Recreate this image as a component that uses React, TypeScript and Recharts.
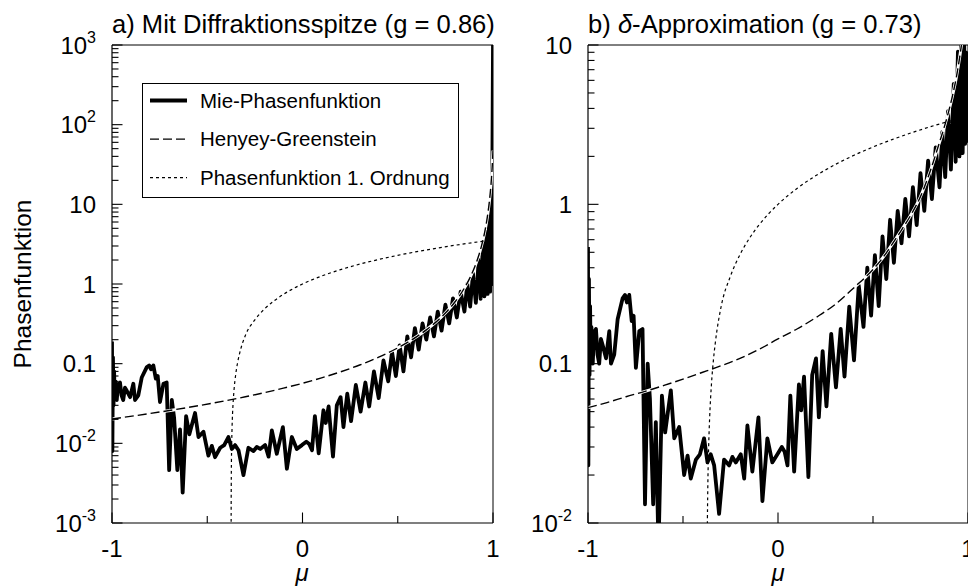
import React from 'react';
import { LineChart, Line, XAxis, YAxis, Legend, ReferenceLine } from 'recharts';

const FONT = '"Liberation Sans", Arial, Helvetica, sans-serif';

// ---------- Panel a) data: [mu, value] ----------
const mieA: [number, number][] = [
  [-1, 0.19], [-0.998, 0.008], [-0.995, 0.12], [-0.992, 0.03], [-0.989, 0.08], [-0.986, 0.04],
  [-0.982, 0.06], [-0.975, 0.035], [-0.968, 0.055], [-0.958, 0.058], [-0.95, 0.04], [-0.941, 0.035],
  [-0.932, 0.05], [-0.923, 0.046], [-0.905, 0.038], [-0.888, 0.056], [-0.879, 0.035], [-0.862, 0.04],
  [-0.844, 0.067], [-0.818, 0.09], [-0.805, 0.095], [-0.795, 0.085], [-0.783, 0.095], [-0.77, 0.065],
  [-0.76, 0.07], [-0.748, 0.033], [-0.73, 0.056], [-0.713, 0.058], [-0.7, 0.0046], [-0.686, 0.035],
  [-0.674, 0.021], [-0.657, 0.0046], [-0.643, 0.015], [-0.629, 0.0024], [-0.611, 0.022], [-0.594, 0.013],
  [-0.564, 0.024], [-0.546, 0.012], [-0.52, 0.014], [-0.494, 0.007], [-0.476, 0.0093], [-0.459, 0.0067],
  [-0.432, 0.0088], [-0.411, 0.0095], [-0.389, 0.012], [-0.371, 0.0085], [-0.354, 0.0095], [-0.336, 0.0082],
  [-0.31, 0.004], [-0.284, 0.0088], [-0.257, 0.008], [-0.24, 0.009], [-0.222, 0.0085], [-0.196, 0.0095],
  [-0.178, 0.0068], [-0.161, 0.0145], [-0.135, 0.0074], [-0.103, 0.016], [-0.082, 0.0048], [-0.056, 0.012],
  [-0.03, 0.0085], [-0.003, 0.0095], [0.02, 0.0105], [0.035, 0.0098], [0.05, 0.0082], [0.065, 0.022],
  [0.085, 0.0075], [0.11, 0.026], [0.122, 0.018], [0.137, 0.029], [0.16, 0.0068], [0.18, 0.03],
  [0.2, 0.038], [0.215, 0.016], [0.235, 0.042], [0.255, 0.019], [0.28, 0.054], [0.305, 0.025],
  [0.33, 0.058], [0.35, 0.029], [0.375, 0.08], [0.4, 0.037], [0.425, 0.11], [0.45, 0.06],
  [0.47, 0.14], [0.49, 0.07], [0.51, 0.17], [0.53, 0.08], [0.55, 0.22], [0.57, 0.12],
  [0.59, 0.28], [0.61, 0.15], [0.63, 0.32], [0.65, 0.2], [0.67, 0.38], [0.69, 0.22],
  [0.71, 0.45], [0.73, 0.26], [0.75, 0.55], [0.77, 0.32], [0.79, 0.66], [0.81, 0.38],
  [0.83, 0.8], [0.85, 0.45], [0.865, 1.0], [0.88, 0.52], [0.895, 1.35], [0.91, 0.58],
  [0.925, 2.0], [0.935, 0.65], [0.947, 3.2], [0.955, 0.7], [0.965, 4.5], [0.972, 0.75],
  [0.98, 8], [0.985, 0.8], [0.99, 12], [0.994, 1.0], [0.997, 40], [1, 1000],
];

const hgA: [number, number][] = [
  [-1, 0.0202], [-0.8, 0.0237], [-0.6, 0.0282], [-0.4, 0.0344], [-0.3, 0.0384], [-0.2, 0.0433],
  [-0.1, 0.0493], [0, 0.0567], [0.1, 0.0663], [0.2, 0.079], [0.3, 0.0962], [0.4, 0.1207],
  [0.5, 0.1578], [0.6, 0.2187], [0.65, 0.266], [0.7, 0.332], [0.75, 0.432], [0.8, 0.594],
  [0.85, 0.89], [0.88, 1.212], [0.9, 1.552], [0.92, 2.089], [0.94, 3.026], [0.96, 4.95],
  [0.97, 6.85], [0.98, 10.37], [0.99, 18.4], [0.995, 27.5], [1, 47.4],
];

const ordA: [number, number][] = [
  [-0.375, 0.000001], [-0.3745, 0.0015], [-0.374, 0.003], [-0.372, 0.009], [-0.37, 0.015],
  [-0.365, 0.03], [-0.36, 0.045], [-0.35, 0.075], [-0.34, 0.105], [-0.33, 0.135], [-0.3, 0.226],
  [-0.25, 0.355], [-0.2, 0.484], [-0.15, 0.613], [-0.1, 0.742], [-0.05, 0.871], [0, 1],
  [0.1, 1.258], [0.2, 1.516], [0.3, 1.774], [0.4, 2.032], [0.5, 2.29], [0.6, 2.548],
  [0.7, 2.806], [0.8, 3.064], [0.9, 3.322], [1, 3.58],
];

// ---------- Panel b) data ----------
const mieB: [number, number][] = [
  [-1, 0.54], [-0.998, 0.023], [-0.995, 0.34], [-0.992, 0.085], [-0.989, 0.23], [-0.986, 0.11],
  [-0.982, 0.17], [-0.975, 0.1], [-0.968, 0.157], [-0.958, 0.165], [-0.95, 0.114], [-0.941, 0.1],
  [-0.932, 0.143], [-0.923, 0.131], [-0.905, 0.108], [-0.888, 0.16], [-0.879, 0.1], [-0.862, 0.114],
  [-0.844, 0.19], [-0.818, 0.257], [-0.805, 0.27], [-0.795, 0.242], [-0.783, 0.27], [-0.77, 0.185],
  [-0.76, 0.2], [-0.748, 0.094], [-0.73, 0.16], [-0.713, 0.165], [-0.7, 0.0131], [-0.686, 0.1],
  [-0.674, 0.06], [-0.657, 0.0131], [-0.643, 0.043], [-0.629, 0.0068], [-0.611, 0.063], [-0.594, 0.037],
  [-0.564, 0.068], [-0.546, 0.034], [-0.52, 0.04], [-0.494, 0.02], [-0.476, 0.0265], [-0.459, 0.019],
  [-0.432, 0.025], [-0.411, 0.027], [-0.389, 0.034], [-0.371, 0.024], [-0.354, 0.027], [-0.336, 0.023],
  [-0.31, 0.0114], [-0.284, 0.025], [-0.257, 0.023], [-0.24, 0.026], [-0.222, 0.024], [-0.196, 0.027],
  [-0.178, 0.019], [-0.161, 0.041], [-0.135, 0.021], [-0.103, 0.046], [-0.082, 0.0137], [-0.056, 0.034],
  [-0.03, 0.024], [-0.003, 0.027], [0.02, 0.03], [0.035, 0.028], [0.05, 0.023], [0.065, 0.063],
  [0.085, 0.021], [0.11, 0.074], [0.122, 0.051], [0.137, 0.083], [0.16, 0.0194], [0.18, 0.085],
  [0.2, 0.108], [0.215, 0.046], [0.235, 0.12], [0.255, 0.054], [0.28, 0.154], [0.305, 0.071],
  [0.33, 0.165], [0.35, 0.083], [0.375, 0.228], [0.4, 0.105], [0.425, 0.31], [0.45, 0.17],
  [0.47, 0.4], [0.49, 0.2], [0.51, 0.48], [0.53, 0.23], [0.55, 0.63], [0.57, 0.34],
  [0.59, 0.8], [0.61, 0.43], [0.63, 0.91], [0.65, 0.57], [0.67, 1.08], [0.69, 0.63],
  [0.71, 1.28], [0.73, 0.74], [0.75, 1.57], [0.77, 0.91], [0.79, 1.88], [0.81, 1.08],
  [0.83, 2.28], [0.85, 1.28], [0.865, 2.85], [0.88, 1.48], [0.895, 3.85], [0.91, 1.65],
  [0.925, 5.7], [0.935, 1.85], [0.947, 9.1], [0.955, 2.0], [0.965, 12.8], [0.972, 2.1],
  [0.98, 11], [0.985, 2.4], [0.99, 9], [0.995, 2.5], [1, 6],
];

const hgB: [number, number][] = [
  [-1, 0.053], [-0.9, 0.057], [-0.8, 0.062], [-0.7, 0.067], [-0.6, 0.073], [-0.5, 0.08],
  [-0.4, 0.088], [-0.3, 0.097], [-0.2, 0.108], [-0.1, 0.123], [0, 0.143], [0.1, 0.165],
  [0.2, 0.195], [0.3, 0.235], [0.4, 0.3], [0.5, 0.39], [0.55, 0.46], [0.6, 0.56],
  [0.65, 0.69], [0.7, 0.86], [0.75, 1.12], [0.8, 1.6], [0.85, 2.45], [0.88, 3.2],
  [0.9, 3.9], [0.92, 4.9], [0.94, 6.4], [0.96, 9.0], [0.97, 11], [0.98, 14],
];

const ordB: [number, number][] = ordA;

// ---------- ticks / labels ----------
const xTicks = [-1, -0.5, 0, 0.5, 1];
const xLabelValues = [-1, 0, 1];
const xLabelTexts = ['-1', '0', '1'];

const yTicksA = [
  0.001, 0.002, 0.003, 0.004, 0.005, 0.006, 0.007, 0.008, 0.009,
  0.01, 0.02, 0.03, 0.04, 0.05, 0.06, 0.07, 0.08, 0.09,
  0.1, 0.2, 0.3, 0.4, 0.5, 0.6, 0.7, 0.8, 0.9,
  1, 2, 3, 4, 5, 6, 7, 8, 9,
  10, 20, 30, 40, 50, 60, 70, 80, 90,
  100, 200, 300, 400, 500, 600, 700, 800, 900, 1000,
];
const yLabelValuesA = [0.001, 0.01, 0.1, 1, 10, 100, 1000];
const yLabelTextsA: [string, string][] = [['10', '-3'], ['10', '-2'], ['0.1', ''], ['1', ''], ['10', ''], ['10', '2'], ['10', '3']];

const yTicksB = [
  0.01, 0.02, 0.03, 0.04, 0.05, 0.06, 0.07, 0.08, 0.09,
  0.1, 0.2, 0.3, 0.4, 0.5, 0.6, 0.7, 0.8, 0.9,
  1, 2, 3, 4, 5, 6, 7, 8, 9, 10,
];
const yLabelValuesB = [0.01, 0.1, 1, 10];
const yLabelTextsB: [string, string][] = [['10', '-2'], ['0.1', ''], ['1', ''], ['10', '']];

const legendLabels = ['Mie-Phasenfunktion', 'Henyey-Greenstein', 'Phasenfunktion 1. Ordnung'];
const titleA = 'a) Mit Diffraktionsspitze (g = 0.86)';
const titleBPre = 'b) ';
const titleBSym = 'δ';
const titleBPost = '-Approximation (g = 0.73)';
const yAxisTitle = 'Phasenfunktion';
const xAxisTitle = 'μ';

const toPts = (arr: [number, number][]) => arr.map(([x, y]) => ({ x, y }));

const XTick = (props: any) => {
  const { x, y, payload } = props;
  const v = payload.value;
  const idx = xLabelValues.findIndex((l) => Math.abs(l - v) < 1e-9);
  const major = idx >= 0;
  return (
    <g>
      <line x1={x} x2={x} y1={y} y2={y - (major ? 10.5 : 7)} stroke="#000" strokeWidth={1.1} />
      {major && (
        <text x={x} y={y + 34} textAnchor="middle" fontSize={24} fontFamily={FONT} fill="#000">
          {xLabelTexts[idx]}
        </text>
      )}
    </g>
  );
};

const makeYTick = (vals: number[], texts: [string, string][]) => (props: any) => {
  const { x, y, payload } = props;
  const v = payload.value;
  const idx = vals.findIndex((l) => Math.abs(Math.log10(l) - Math.log10(v)) < 1e-6);
  const major = idx >= 0;
  return (
    <g>
      <line x1={x} x2={x + (major ? 10.5 : 6.5)} y1={y} y2={y} stroke="#000" strokeWidth={1.1} />
      {major && (
        <text x={x - 16} y={y + 8.5} textAnchor="end" fontSize={24} fontFamily={FONT} fill="#000">
          {texts[idx][0]}
          {texts[idx][1] ? (
            <tspan dy={-11} fontSize={16}>{texts[idx][1]}</tspan>
          ) : null}
        </text>
      )}
    </g>
  );
};

const YTickA = makeYTick(yLabelValuesA, yLabelTextsA);
const YTickB = makeYTick(yLabelValuesB, yLabelTextsB);

const legendStyles = [
  { w: 4, dash: undefined as string | undefined },
  { w: 1.4, dash: '9 4' },
  { w: 1.2, dash: '3 3' },
];

const LegendBox = () => (
  <svg width={318} height={116} style={{ display: 'block' }}>
    <rect x={0.5} y={0.5} width={316} height={114} fill="#fff" stroke="#000" strokeWidth={1} />
    {legendLabels.map((lab, i) => (
      <g key={lab}>
        <line
          x1={8}
          x2={45}
          y1={17.5 + i * 38.6}
          y2={17.5 + i * 38.6}
          stroke="#000"
          strokeWidth={legendStyles[i].w}
          strokeDasharray={legendStyles[i].dash}
        />
        <text x={58} y={24.8 + i * 38.6} fontSize={20.5} fontFamily={FONT} fill="#000">
          {lab}
        </text>
      </g>
    ))}
  </svg>
);

const Panel = ({
  mie, hg, ord, domain, ticks, tick, legend, width, marginLeft, marginRight,
}: any) => (
  <LineChart
    width={width}
    height={586}
    margin={{ top: 45, right: marginRight, bottom: 23, left: marginLeft - 60 }}
  >
    <XAxis
      type="number"
      dataKey="x"
      domain={[-1, 1]}
      ticks={xTicks}
      interval={0}
      allowDataOverflow
      height={40}
      tickSize={0}
      tickMargin={0}
      tickLine={false}
      axisLine={{ stroke: '#000', strokeWidth: 1.2 }}
      tick={<XTick />}
    />
    <YAxis
      type="number"
      dataKey="y"
      scale="log"
      domain={domain}
      ticks={ticks}
      interval={0}
      allowDataOverflow
      width={60}
      tickSize={0}
      tickMargin={0}
      tickLine={false}
      axisLine={{ stroke: '#000', strokeWidth: 1.2 }}
      tick={tick}
    />
    <ReferenceLine y={domain[1]} stroke="#000" strokeWidth={1} />
    <ReferenceLine x={1} stroke="#000" strokeWidth={1} />
    <Line data={toPts(mie)} dataKey="y" type="linear" stroke="#000" strokeWidth={3.8}
      strokeLinejoin="round" dot={false} activeDot={false} isAnimationActive={false} legendType="none" />
    <Line data={toPts(hg)} dataKey="y" type="monotone" stroke="#fff" strokeWidth={3}
      dot={false} activeDot={false} isAnimationActive={false} legendType="none" />
    <Line data={toPts(hg)} dataKey="y" type="monotone" stroke="#000" strokeWidth={1.4}
      strokeDasharray="9 4" dot={false} activeDot={false} isAnimationActive={false} legendType="none" />
    <Line data={toPts(ord)} dataKey="y" type="monotone" stroke="#000" strokeWidth={1.2}
      strokeDasharray="3 3" dot={false} activeDot={false} isAnimationActive={false} legendType="none" />
    {legend && (
      <Legend
        content={<LegendBox />}
        layout="horizontal"
        verticalAlign="middle"
        align="center"
        wrapperStyle={{ left: 142, top: 83, width: 318, height: 116 }}
      />
    )}
  </LineChart>
);

export default function App() {
  return (
    <div
      style={{
        position: 'absolute', left: 0, top: 0, width: 968, height: 586,
        overflow: 'hidden', background: '#fff',
      }}
    >
      <div style={{ position: 'absolute', left: 0, top: 0 }}>
        <Panel mie={mieA} hg={hgA} ord={ordA} domain={[0.001, 1000]} ticks={yTicksA}
          tick={<YTickA />} legend width={520} marginLeft={112} marginRight={27} />
      </div>
      <div style={{ position: 'absolute', left: 480, top: 0 }}>
        <Panel mie={mieB} hg={hgB} ord={ordB} domain={[0.01, 10]} ticks={yTicksB}
          tick={<YTickB />} legend={false} width={508} marginLeft={108} marginRight={20} />
      </div>
      <svg
        width={968}
        height={586}
        style={{ position: 'absolute', left: 0, top: 0, pointerEvents: 'none' }}
      >
        <text x={112} y={32.5} fontSize={25.6} fontFamily={FONT} fill="#000">{titleA}</text>
        <text x={588} y={32.5} fontSize={25.6} fontFamily={FONT} fill="#000">
          {titleBPre}
          <tspan fontStyle="italic">{titleBSym}</tspan>
          {titleBPost}
        </text>
        <text
          x={31}
          y={284}
          transform="rotate(-90 31 284)"
          textAnchor="middle"
          fontSize={24.5}
          fontFamily={FONT}
          fill="#000"
        >
          {yAxisTitle}
        </text>
        <text x={302} y={581} textAnchor="middle" fontSize={24} fontStyle="italic" fontFamily={FONT} fill="#000">
          {xAxisTitle}
        </text>
        <text x={778} y={581} textAnchor="middle" fontSize={24} fontStyle="italic" fontFamily={FONT} fill="#000">
          {xAxisTitle}
        </text>
      </svg>
    </div>
  );
}
